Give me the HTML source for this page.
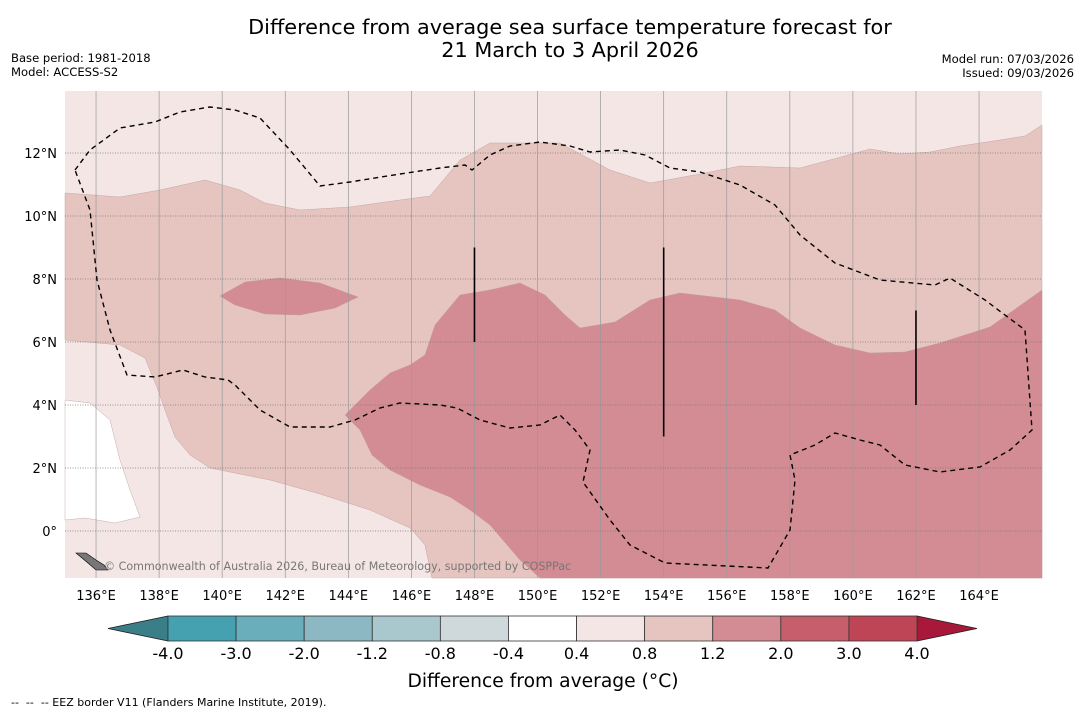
<!DOCTYPE html>
<html><head><meta charset="utf-8">
<style>
body{margin:0;background:#fff;font-family:"DejaVu Sans","Liberation Sans",sans-serif;}
#wrap{position:relative;width:1085px;height:713px;overflow:hidden;background:#fff}
text{white-space:pre}
</style></head>
<body>
<div id="wrap">
<svg id="svg" width="1085" height="713" xmlns="http://www.w3.org/2000/svg" font-family="DejaVu Sans, Liberation Sans, sans-serif">
<text x="570" y="34" font-size="20.8" text-anchor="middle">Difference from average sea surface temperature forecast for</text>
<text x="570" y="57" font-size="20.8" text-anchor="middle">21 March to 3 April 2026</text>
<text x="11" y="62" font-size="11.6">Base period: 1981-2018</text>
<text x="11" y="76" font-size="11.6">Model: ACCESS-S2</text>
<text x="1074" y="63" font-size="11.6" text-anchor="end">Model run: 07/03/2026</text>
<text x="1074" y="77" font-size="11.6" text-anchor="end">Issued: 09/03/2026</text>
<g id="map"></g>
<g id="cbar"></g>
<text x="543" y="687" font-size="18.7" text-anchor="middle">Difference from average (°C)</text>
<text x="11" y="706" font-size="11">--  --  -- EEZ border V11 (Flanders Marine Institute, 2019).</text>
</svg>
</div>
<script>
const NS='http://www.w3.org/2000/svg';
const lonTicks=[136,138,140,142,144,146,148,150,152,154,156,158,160,162,164];
const latTicks=[0,2,4,6,8,10,12];
const cbLevels=[-4.0,-3.0,-2.0,-1.2,-0.8,-0.4,0.4,0.8,1.2,2.0,3.0,4.0];
const cbColors=['#45a0b0','#6aaebb','#8bb8c3','#a9c8cd','#cfd8db','#ffffff','#f4e6e5','#e6c5c0','#d48c94','#c65e6c','#bd4555'];
const X0=65,X1=1042,Y0=91,Y1=578;
function xs(lon){return 64.5+(lon-135)*31.536;}
function ys(lat){return 531-lat*31.5;}
function el(tag,attrs,parent){const e=document.createElementNS(NS,tag);for(const k in attrs)e.setAttribute(k,attrs[k]);parent.appendChild(e);return e;}
const map=document.getElementById('map');
function pts(a){return a.map(p=>p.join(',')).join(' ');}
let r=el('rect',{x:X0,y:Y0,width:X1-X0,height:Y1-Y0,fill:'#f4e6e5'},map);


const white=[[65,400],[90,403],[110,420],[120,460],[130,490],[140,517],[115,523],[85,518],[65,520]];
const mid=[[65,193],[120,197],[160,190],[205,180],[240,190],[265,203],[300,210],[350,207],[400,200],[430,196],[460,160],[490,143],[560,143],[610,170],[650,183],[700,174],[740,166],[800,168],[830,160],[870,149],[900,154],[930,152],[960,146],[1000,140],[1025,136],[1042,125],[1042,578],[432,578],[425,545],[410,528],[370,510],[320,494],[270,480],[210,468],[190,455],[175,437],[165,410],[158,390],[145,358],[120,345],[65,340]];
const dark=[[345,415],[370,390],[390,373],[410,365],[425,355],[435,325],[460,295],[490,290],[520,283],[545,295],[565,315],[580,328],[615,322],[650,300],[680,293],[740,300],[775,310],[800,328],[835,345],[870,353],[905,352],[940,343],[990,327],[1042,290],[1042,578],[540,578],[520,560],[490,525],[470,510],[450,497],[420,485],[390,470],[372,455],[360,430]];
const blob=[[220,296],[245,282],[280,278],[320,283],[358,297],[335,308],[300,315],[265,314],[235,305]];
[[white,'#ffffff','white-region'],[mid,'#e6c5c0','anomaly-0.8-1.2'],[dark,'#d48c94','anomaly-1.2-2.0'],[blob,'#d48c94','anomaly-blob']].forEach(([p,c,n])=>{
 const e=el('polygon',{points:pts(p),fill:c,stroke:'#b89a98','stroke-width':0.4},map);
 
 
});
lonTicks.forEach(l=>{
 const x=xs(l);
 const g=el('line',{x1:x,x2:x,y1:Y0,y2:Y1,stroke:'#999','stroke-width':0.7},map);
 
 
 const t=el('text',{x:x,y:600,'font-size':13,'text-anchor':'middle'},map);t.textContent=l+'°E';
 
 
});
latTicks.forEach(l=>{
 const y=ys(l);
 const g=el('line',{x1:X0,x2:X1,y1:y,y2:y,stroke:'#777','stroke-width':0.7,'stroke-dasharray':'1,1.5'},map);
 
 
 const t=el('text',{x:57,y:y+5,'font-size':13,'text-anchor':'end'},map);t.textContent=l===0?'0°':l+'°N';
 
 
});
const eez=[[75,170],[90,150],[120,128],[155,122],[180,112],[210,107],[235,110],[260,118],[290,150],[320,186],[350,182],[400,174],[440,168],[465,165],[472,170],[490,155],[510,146],[540,142],[570,146],[590,152],[620,150],[645,155],[670,168],[700,172],[740,185],[775,205],[800,235],[835,263],[880,280],[935,285],[950,278],[985,300],[1025,330],[1032,430],[1010,450],[980,467],[940,472],[905,465],[880,445],[860,440],[835,433],[815,445],[790,455],[795,480],[790,530],[768,568],[665,563],[630,545],[610,520],[583,482],[590,450],[575,430],[560,415],[540,425],[510,428],[480,420],[457,408],[440,405],[400,403],[380,408],[355,420],[330,427],[290,427],[260,410],[235,385],[228,380],[205,377],[183,370],[155,377],[127,375],[110,330],[97,280],[90,210],[75,170]];
let d=el('polyline',{points:pts(eez),fill:'none',stroke:'#000','stroke-width':1.4,'stroke-dasharray':'5,4'},map);


[[148,9,6],[154,9,3],[162,7,4]].forEach(([lo,a,b])=>{
 const v=el('line',{x1:xs(lo),x2:xs(lo),y1:ys(a),y2:ys(b),stroke:'#000','stroke-width':1.6},map);
 
 
});
const isl=el('polygon',{points:'76,553 86,553 96,560 104,565 108,570 96,570 88,563',fill:'#777',stroke:'#000','stroke-width':0.6},map);


const cp=el('text',{x:104,y:570,'font-size':11.1,fill:'#777'},map);cp.textContent='© Commonwealth of Australia 2026, Bureau of Meteorology, supported by COSPPac';


const cb=document.getElementById('cbar');
const cx0=168,cx1=917,cy0=616,cy1=641;
const sw=(cx1-cx0)/cbColors.length;
let tl=el('polygon',{points:`108,628.5 ${cx0},${cy0} ${cx0},${cy1}`,fill:'#3a7f88',stroke:'#222','stroke-width':0.8},cb);


let tr=el('polygon',{points:`977,628.5 ${cx1},${cy0} ${cx1},${cy1}`,fill:'#a8183a',stroke:'#222','stroke-width':0.8},cb);


cbColors.forEach((c,i)=>{
 const s=el('rect',{x:cx0+i*sw,y:cy0,width:sw,height:cy1-cy0,fill:c,stroke:'#333','stroke-width':0.8},cb);
 
 
});
cbLevels.forEach((v,i)=>{
 const t=el('text',{x:cx0+i*sw,y:659,'font-size':16,'text-anchor':'middle'},cb);t.textContent=v.toFixed(1);
 
 
});
</script>
</body></html>
